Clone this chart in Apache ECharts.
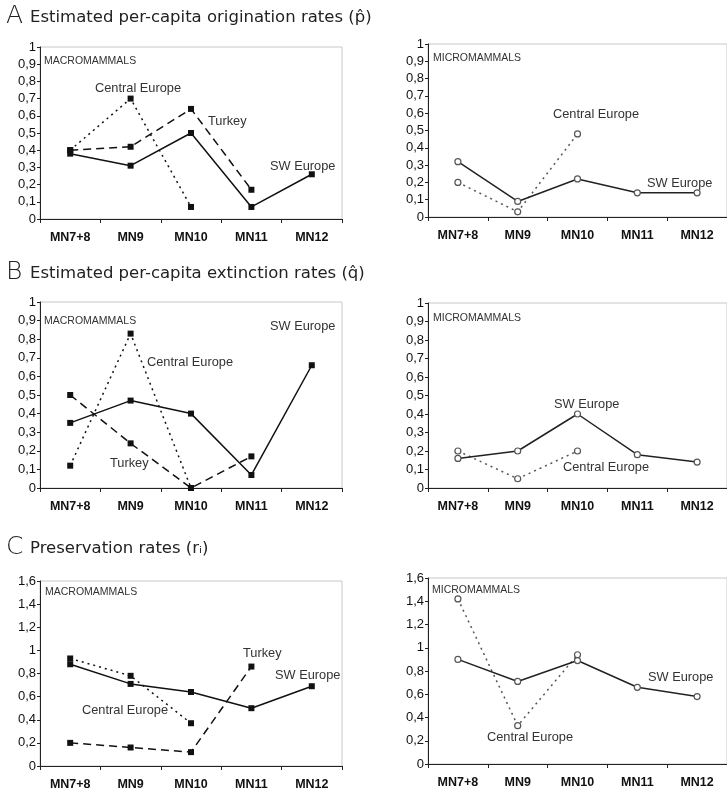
<!DOCTYPE html>
<html><head><meta charset="utf-8">
<script src="https://cdn.jsdelivr.net/npm/echarts@6/dist/echarts.min.js"></script>
<style>html,body{margin:0;padding:0;background:#fff}#c{width:727px;height:796px}</style>
</head><body><div id="c"></div>
<script>
const categories = ['MN7+8','MN9','MN10','MN11','MN12'];
// A: origination rates
const aMacroSW = [0.38, 0.31, 0.50, 0.07, 0.26];
const aMacroCE = [0.40, 0.70, 0.07, null, null];
const aMacroTR = [0.40, 0.42, 0.64, 0.17, null];
const aMicroSW = [0.32, 0.09, 0.22, 0.14, 0.14];
const aMicroCE = [0.20, 0.03, 0.48, null, null];
// B: extinction rates
const bMacroSW = [0.35, 0.47, 0.40, 0.07, 0.66];
const bMacroCE = [0.12, 0.83, 0.00, null, null];
const bMacroTR = [0.50, 0.24, 0.00, 0.17, null];
const bMicroSW = [0.16, 0.20, 0.40, 0.18, 0.14];
const bMicroCE = [0.20, 0.05, 0.20, null, null];
// C: preservation rates
const cMacroSW = [0.88, 0.71, 0.64, 0.50, 0.69];
const cMacroCE = [0.93, 0.78, 0.37, null, null];
const cMacroTR = [0.20, 0.16, 0.12, 0.86, null];
const cMicroSW = [0.90, 0.71, 0.89, 0.66, 0.58];
const cMicroCE = [1.42, 0.33, 0.94, null, null];

const titles = [
  ['A', 'Estimated per-capita origination rates (p\u0302)'],
  ['B', 'Estimated per-capita extinction rates (q\u0302)'],
  ['C', 'Preservation rates (r\u1D62)']
];
const yMax = [1, 1, 1.6];
const yInterval = [0.1, 0.1, 0.2];

const chart = echarts.init(document.getElementById('c'));
const grids = [
  {left: 40, top: 47, width: 302, height: 172},
  {left: 428, top: 44, width: 307, height: 173},
  {left: 40, top: 302, width: 302, height: 186},
  {left: 428, top: 303, width: 307, height: 185},
  {left: 40, top: 581, width: 302, height: 185},
  {left: 428, top: 578, width: 307, height: 186}
];
const xAxes = [], yAxes = [];
grids.forEach((g, i) => {
  g.show = true; g.borderColor = '#c8c8c8'; g.borderWidth = 1; g.backgroundColor = 'transparent';
  const row = Math.floor(i / 2);
  xAxes.push({
    type: 'category', gridIndex: i, data: categories, boundaryGap: true,
    axisLine: {lineStyle: {color: '#222', width: 1}},
    axisTick: {show: true, length: 4, lineStyle: {color: '#222'}},
    axisLabel: {color: '#111', fontSize: 12.5, fontWeight: 'bold', fontFamily: 'Liberation Sans Narrow, Liberation Sans, Arial', margin: 12, letterSpacing: -0.6}
  });
  yAxes.push({
    type: 'value', gridIndex: i, min: 0, max: yMax[row], interval: yInterval[row],
    splitLine: {show: false},
    axisLine: {show: true, lineStyle: {color: '#222', width: 1}},
    axisTick: {show: true, length: 3, lineStyle: {color: '#222'}},
    axisLabel: {color: '#111', fontSize: 13, fontFamily: 'Liberation Sans, Arial', margin: 4,
      formatter: v => String(+v.toFixed(1)).replace('.', ',')}
  });
});

function macro(idx, data, type) {
  return {
    type: 'line', xAxisIndex: idx, yAxisIndex: idx, data: data, connectNulls: false,
    symbol: 'rect', symbolSize: 6, showSymbol: true,
    itemStyle: {color: '#111', borderWidth: 0},
    lineStyle: {color: '#111', width: 1.5, type: type},
    z: 3, animation: false
  };
}
function micro(idx, data, type) {
  return {
    type: 'line', xAxisIndex: idx, yAxisIndex: idx, data: data,
    symbol: 'circle', symbolSize: 6, showSymbol: true,
    itemStyle: {color: '#fff', borderColor: '#555', borderWidth: 1.2},
    lineStyle: {color: type === 'solid' ? '#222' : '#555', width: 1.5, type: type},
    z: 3, animation: false
  };
}
const dotted = [2, 4];
const dashed = [8, 5];
const series = [
  macro(0, aMacroCE, dotted), macro(0, aMacroTR, dashed), macro(0, aMacroSW, 'solid'),
  micro(1, aMicroCE, dotted), micro(1, aMicroSW, 'solid'),
  macro(2, bMacroCE, dotted), macro(2, bMacroTR, dashed), macro(2, bMacroSW, 'solid'),
  micro(3, bMicroCE, dotted), micro(3, bMicroSW, 'solid'),
  macro(4, cMacroCE, dotted), macro(4, cMacroTR, dashed), macro(4, cMacroSW, 'solid'),
  micro(5, cMicroCE, dotted), micro(5, cMicroSW, 'solid')
];

function txt(x, y, s, size, extra) {
  return {type: 'text', x: x, y: y, z: 10,
    style: Object.assign({text: s, fill: '#333', fontSize: size || 12,
      fontFamily: 'Liberation Sans, Arial', verticalAlign: 'middle', align: 'left'}, extra || {})};
}
const titleY = [16, 272, 547];
const graphics = [];
titles.forEach((t, r) => {
  graphics.push(txt(6, titleY[r], t[0], 25, {fill: '#222', fontFamily: 'DejaVu Sans', fontWeight: 200}));
  graphics.push(txt(30, titleY[r] + 2, t[1], 16.5, {fill: '#222', fontFamily: 'DejaVu Sans'}));
});
// panel labels
const pl = {letterSpacing: -0.6};
graphics.push(txt(44, 61, 'MACROMAMMALS', 10.5, pl));
graphics.push(txt(433, 58, 'MICROMAMMALS', 10.5, pl));
graphics.push(txt(44, 321, 'MACROMAMMALS', 10.5, pl));
graphics.push(txt(433, 318, 'MICROMAMMALS', 10.5, pl));
graphics.push(txt(45, 592, 'MACROMAMMALS', 10.5, pl));
graphics.push(txt(432, 590, 'MICROMAMMALS', 10.5, pl));
// series annotations
const an = 12.8;
graphics.push(txt(95, 88, 'Central Europe', an));
graphics.push(txt(208, 121, 'Turkey', an));
graphics.push(txt(270, 166, 'SW Europe', an));
graphics.push(txt(553, 114, 'Central Europe', an));
graphics.push(txt(647, 183, 'SW Europe', an));
graphics.push(txt(147, 362, 'Central Europe', an));
graphics.push(txt(270, 326, 'SW Europe', an));
graphics.push(txt(110, 463, 'Turkey', an));
graphics.push(txt(554, 404, 'SW Europe', an));
graphics.push(txt(563, 467, 'Central Europe', an));
graphics.push(txt(243, 653, 'Turkey', an));
graphics.push(txt(275, 675, 'SW Europe', an));
graphics.push(txt(82, 710, 'Central Europe', an));
graphics.push(txt(648, 677, 'SW Europe', an));
graphics.push(txt(487, 737, 'Central Europe', an));

chart.setOption({
  animation: false,
  backgroundColor: '#fff',
  grid: grids, xAxis: xAxes, yAxis: yAxes, series: series, graphic: graphics
});
</script></body></html>
